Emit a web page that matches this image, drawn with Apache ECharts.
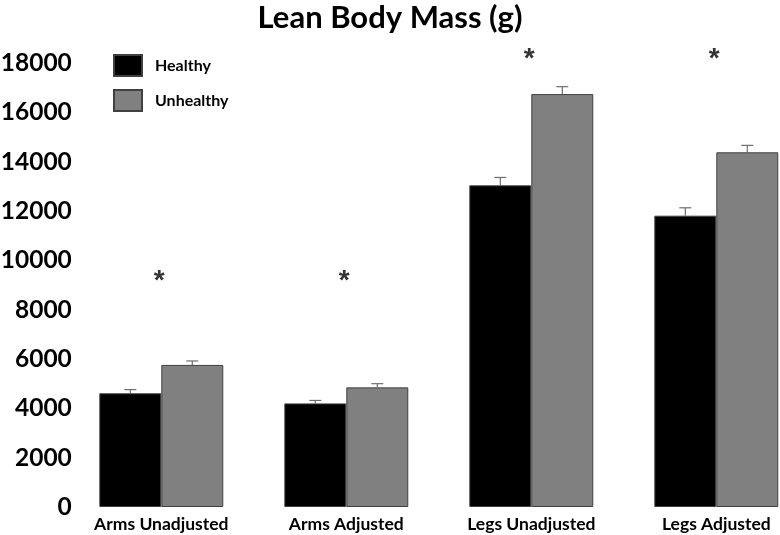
<!DOCTYPE html>
<html>
<head>
<meta charset="utf-8">
<script src="https://cdn.jsdelivr.net/npm/echarts@6/dist/echarts.min.js"></script>
<style>html,body{margin:0;padding:0;background:#fff}#c{width:780px;height:535px}</style>
</head>
<body>
<div id="c"></div>
<script>
const categories = ['Arms Unadjusted', 'Arms Adjusted', 'Legs Unadjusted', 'Legs Adjusted'];
const healthy = [4610, 4200, 13040, 11810];
const unhealthy = [5760, 4850, 16740, 14380];
const healthyErr = [150, 120, 320, 320];
const unhealthyErr = [160, 150, 300, 280];
const starValues = [9140, 9140, 18150, 18150];
const yTicks = [0, 2000, 4000, 6000, 8000, 10000, 12000, 14000, 16000, 18000];

const FONT = 'Lato';
const CAT_GAP = 0.33;

function errSeries(name, vals, errs, side) {
  return {
    type: 'custom',
    name: name + ' err',
    z: 5,
    renderItem: function (params, api) {
      const idx = api.value(0);
      const v = api.value(1);
      const e = api.value(2);
      const band = api.size([1, 0])[0];
      const bw = band * (1 - CAT_GAP) / 2;
      const base = api.coord([idx, v]);
      const top = api.coord([idx, v + e]);
      const x = base[0] + side * bw / 2;
      const cap = 6;
      const st = { stroke: '#6e6e6e', lineWidth: 1.2 };
      return {
        type: 'group',
        children: [
          { type: 'line', shape: { x1: x, y1: base[1], x2: x, y2: top[1] }, style: st },
          { type: 'line', shape: { x1: x - cap, y1: top[1], x2: x + cap, y2: top[1] }, style: st }
        ]
      };
    },
    data: vals.map((v, i) => [i, v, errs[i]]),
    tooltip: { show: false }
  };
}

const chart = echarts.init(document.getElementById('c'));
chart.setOption({
  animation: false,
  backgroundColor: '#fff',
  title: {
    text: 'Lean Body Mass (g)',
    left: 'center',
    top: 0,
    padding: [2, 0, 0, 24],
    textStyle: { fontFamily: FONT, fontWeight: 'bold', fontSize: 31, color: '#000' }
  },
  legend: {
    orient: 'vertical',
    left: 113,
    top: 54,
    padding: 0,
    icon: 'rect',
    itemWidth: 28,
    itemHeight: 21,
    itemGap: 12,
    data: ['Healthy', 'Unhealthy'],
    textStyle: { fontFamily: FONT, fontWeight: 'bold', fontSize: 16, color: '#000', padding: [0, 0, 0, 8] }
  },
  grid: { left: 68.8, width: 740, top: 63, bottom: 28, containLabel: false, outerBoundsMode: 'none' },
  xAxis: {
    type: 'category',
    data: categories,
    axisLine: { show: false },
    axisTick: { show: false },
    axisLabel: { fontFamily: FONT, fontWeight: 'bold', fontSize: 17.5, color: '#000', margin: 8 }
  },
  yAxis: {
    type: 'value',
    min: 0,
    max: 18000,
    interval: 2000,
    axisLine: { show: false },
    axisTick: { show: false },
    splitLine: { show: false },
    axisLabel: {
      fontFamily: FONT, fontWeight: 'bold', fontSize: 24.5, color: '#000', margin: -3,
      formatter: function (v) { return yTicks.indexOf(v) >= 0 ? String(v) : ''; }
    }
  },
  series: [
    {
      name: 'Healthy', type: 'bar', data: healthy, barGap: '0%', barCategoryGap: (CAT_GAP * 100) + '%',
      itemStyle: { color: '#000', borderColor: '#404040', borderWidth: 1 }
    },
    {
      name: 'Unhealthy', type: 'bar', data: unhealthy,
      itemStyle: { color: '#808080', borderColor: '#404040', borderWidth: 1 }
    },
    errSeries('Healthy', healthy, healthyErr, -1),
    errSeries('Unhealthy', unhealthy, unhealthyErr, 1),
    {
      type: 'scatter',
      clip: false,
      symbolSize: 0,
      data: starValues.map((v, i) => [i, v]),
      label: {
        show: true, position: 'inside', formatter: '*', offset: [-2, 0],
        fontFamily: 'Liberation Sans', fontWeight: 'bold', fontSize: 28, color: '#000'
      },
      z: 6
    }
  ]
});
</script>
</body>
</html>
